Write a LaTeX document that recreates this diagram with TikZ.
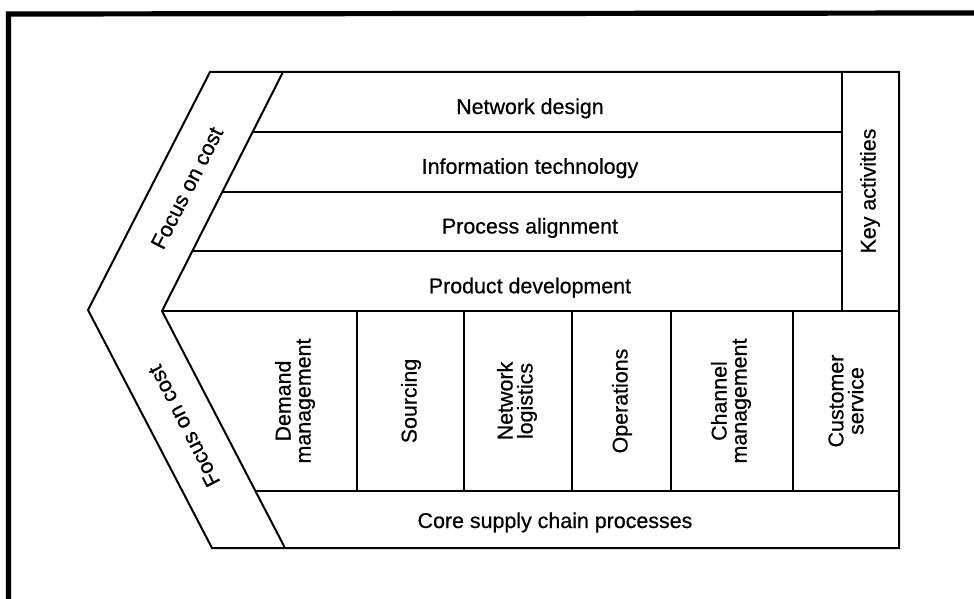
\documentclass[tikz,border=0pt]{standalone}
\usepackage{fontspec}
\setmainfont{Liberation Sans}
\newfontfamily\scanfont{Liberation Sans}[FakeBold=0.6]
\usetikzlibrary{calc}

\begin{document}
\begin{tikzpicture}[x=0.5pt,y=-0.5pt,line width=1pt,
  every node/.style={font=\scanfont\fontsize{10.7}{10}\selectfont},
  rowlabel/.style={anchor=base},
  collabel/.style={rotate=90,align=center}]
\useasboundingbox (0,0) rectangle (974,599);
\draw[line width=2.6pt] (8.5,599) -- (8.5,14) -- (974,13);

\coordinate (ot) at (210,72);
\coordinate (op) at (88,310);
\coordinate (ob) at (212,548);
\coordinate (it) at (283,72);
\coordinate (ip) at (162,311);
\coordinate (ib) at (285,548);
\coordinate (ne) at (899,72);
\coordinate (se) at (899,548);
\coordinate (ka) at (842,72);

\draw (ot) -- (op) -- (ob) -- (se) -- (ne) -- cycle;
\draw (it) -- (ip) -- (ib);
\draw (ip) -- (ip -| se);
\draw (ka) -- (ka |- ip);
\foreach \f in {0.25,0.5,0.75}{
  \path ($(it)!\f!(ip)$) coordinate (r);
  \draw (r) -- (r -| ka);
}
\foreach \x in {357,464,572,671,793}
  \draw (\x,311) -- (\x,491);
\path ($(ip)!0.7595!(ib)$) coordinate (ct);
\draw (ct) -- (ct -| se);

\foreach \t [count=\i] in {Network design,Information technology,Process alignment,Product development}
  \node[rowlabel] (row\i) at (530,{72+59.75*(\i-1)+42}) {\t};
\node[collabel] (keyact) at (870,191) {Key activities};

\node[collabel] (demand) at (295,401) {Demand\\management};
\node[collabel] (sourcing) at (411,401) {Sourcing};
\node[collabel] (netlog) at (517,401) {Network\\logistics};
\node[collabel] (operations) at (622,401) {Operations};
\node[collabel] (channel) at (731,401) {Channel\\management};
\node[collabel] (custserv) at (846,401) {Customer\\service};
\node[rowlabel] (core) at (555,528) {Core supply chain processes};

\node[rotate=63] (focustop) at (187,188) {Focus on cost};
\node[rotate=117] (focusbot) at (184,426) {Focus on cost};
\end{tikzpicture}
\end{document}
